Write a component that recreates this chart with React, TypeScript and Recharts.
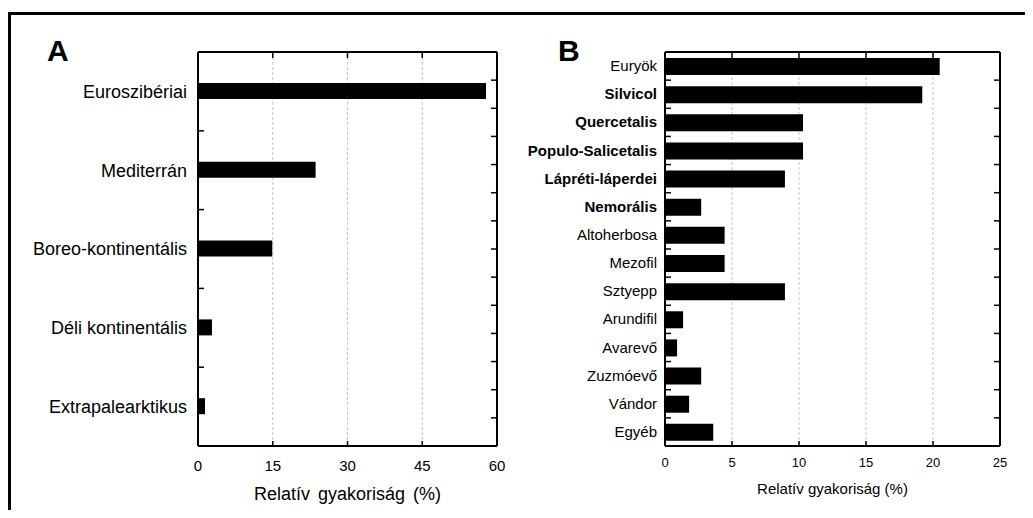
import React from "react";
import { BarChart, Bar, XAxis, YAxis, CartesianGrid } from "recharts";

const regionNames = [
  "Euroszibériai",
  "Mediterrán",
  "Boreo-kontinentális",
  "Déli kontinentális",
  "Extrapalearktikus",
];
const regionValues = [57.8, 23.6, 14.9, 2.8, 1.4];
const regionTicks = [0, 15, 30, 45, 60];

const groupNames = [
  "Euryök",
  "Silvicol",
  "Quercetalis",
  "Populo-Salicetalis",
  "Lápréti-láperdei",
  "Nemorális",
  "Altoherbosa",
  "Mezofil",
  "Sztyepp",
  "Arundifil",
  "Avarevő",
  "Zuzmóevő",
  "Vándor",
  "Egyéb",
];
const groupValues = [20.5, 19.2, 10.3, 10.3, 8.95, 2.7, 4.45, 4.45, 8.95, 1.35, 0.9, 2.7, 1.8, 3.6];
const boldGroups = ["Silvicol", "Quercetalis", "Populo-Salicetalis", "Lápréti-láperdei", "Nemorális"];
const groupTicks = [0, 5, 10, 15, 20, 25];

// minor tick positions on the frame (band boundaries)
const bandTicks14 = [1, 2, 3, 4, 5, 6, 7, 8, 9, 10, 11, 12, 13];
const bandTicks5 = [1, 2, 3, 4];

const font = "'Liberation Sans', Arial, sans-serif";
const frame = { stroke: "#000", strokeWidth: 2 };
const inTick = { stroke: "#000", strokeWidth: 1.5 };

const dataA = regionNames.map((name, i) => ({ name, value: regionValues[i] }));
const dataB = groupNames.map((name, i) => ({ name, value: groupValues[i] }));

// tick marks only, no label
const NoLabel = () => <g />;

const GroupTick = (props: any) => {
  const { x, y, payload } = props;
  const bold = boldGroups.includes(payload.value);
  return (
    <text
      x={x}
      y={y}
      dy={5}
      textAnchor="end"
      fontSize={15}
      fontFamily={font}
      fontWeight={bold ? "bold" : "normal"}
      fill="#000"
    >
      {payload.value}
    </text>
  );
};

const frameAxes = (max: number, xticks: number[], bands: number, leftTicks: number[]) => [
  <XAxis key="bt" xAxisId="bt" dataKey="value" type="number" domain={[0, max]} allowDataOverflow ticks={xticks} interval={0} orientation="bottom" mirror axisLine={false} tickLine={inTick} tickSize={5} tick={<NoLabel />} height={10} />,
  <XAxis key="top" xAxisId="top" dataKey="value" type="number" domain={[0, max]} allowDataOverflow ticks={xticks} interval={0} orientation="top" mirror axisLine={frame} tickLine={inTick} tickSize={6} tick={<NoLabel />} height={10} />,
  <YAxis key="lt" yAxisId="lt" dataKey="value" type="number" domain={[0, leftTicks.length + 1]} allowDataOverflow ticks={leftTicks} interval={0} orientation="left" mirror axisLine={false} tickLine={inTick} tickSize={6} tick={<NoLabel />} width={10} />,
  <YAxis key="rt" yAxisId="rt" dataKey="value" type="number" domain={[0, bands]} allowDataOverflow ticks={bandTicks14} interval={0} orientation="right" mirror axisLine={frame} tickLine={inTick} tickSize={6} tick={<NoLabel />} width={10} />,
];

const App = () => {
  return (
    <div style={{ position: "relative", width: 1033, height: 518, margin: -8, fontFamily: font, background: "#fff" }}>
      <div
        style={{
          position: "absolute",
          left: 8,
          top: 12,
          width: 1040,
          height: 520,
          borderLeft: "3px solid #000",
          borderTop: "3px solid #000",
        }}
      />
      <div style={{ position: "absolute", left: 47, top: 34, fontSize: 30, fontWeight: "bold" }}>A</div>
      <div style={{ position: "absolute", left: 558, top: 34, fontSize: 30, fontWeight: "bold" }}>B</div>

      <div style={{ position: "absolute", left: 0, top: 0 }}>
        <BarChart
          width={520}
          height={518}
          data={dataA}
          layout="vertical"
          margin={{ top: 52, right: 23, bottom: 0, left: 0 }}
        >
          <CartesianGrid horizontal={false} stroke="#c4c4c4" strokeDasharray="3 2" />
          <XAxis
            type="number"
            domain={[0, 60]}
            ticks={regionTicks}
            interval={0}
            height={72}
            axisLine={frame}
            tickLine={false}
            tickSize={6}
            tickMargin={8}
            tick={{ fontSize: 15, fill: "#000", fontFamily: font }}
            label={{ value: "Relatív gyakoriság (%)", position: "insideBottom", offset: 18, fontSize: 18, wordSpacing: 3, fill: "#000", fontFamily: font }}
          />
          <YAxis
            type="category"
            dataKey="name"
            width={198}
            interval={0}
            axisLine={frame}
            tickLine={false}
            tickSize={5}
            tickMargin={6}
            tick={{ fontSize: 18, fill: "#000", fontFamily: font }}
          />
          {frameAxes(60, regionTicks, 14, bandTicks5)}
          <Bar dataKey="value" fill="#000" barSize={16} isAnimationActive={false} />
        </BarChart>
      </div>

      <div style={{ position: "absolute", left: 520, top: 0 }}>
        <BarChart
          width={513}
          height={518}
          data={dataB}
          layout="vertical"
          margin={{ top: 52, right: 33, bottom: 0, left: 0 }}
        >
          <CartesianGrid horizontal={false} stroke="#c4c4c4" strokeDasharray="3 2" />
          <XAxis
            type="number"
            domain={[0, 25]}
            ticks={groupTicks}
            interval={0}
            height={72}
            axisLine={frame}
            tickLine={false}
            tickSize={5}
            tickMargin={7}
            tick={{ fontSize: 13, fill: "#000", fontFamily: font }}
            label={{ value: "Relatív gyakoriság (%)", position: "insideBottom", offset: 24, fontSize: 15, fill: "#000", fontFamily: font }}
          />
          <YAxis
            type="category"
            dataKey="name"
            width={145}
            interval={0}
            axisLine={frame}
            tickLine={false}
            tickSize={4}
            tickMargin={4}
            tick={<GroupTick />}
          />
          {frameAxes(25, groupTicks, 14, bandTicks14)}
          <Bar dataKey="value" fill="#000" barSize={17} isAnimationActive={false} />
        </BarChart>
      </div>
    </div>
  );
};

export default App;
